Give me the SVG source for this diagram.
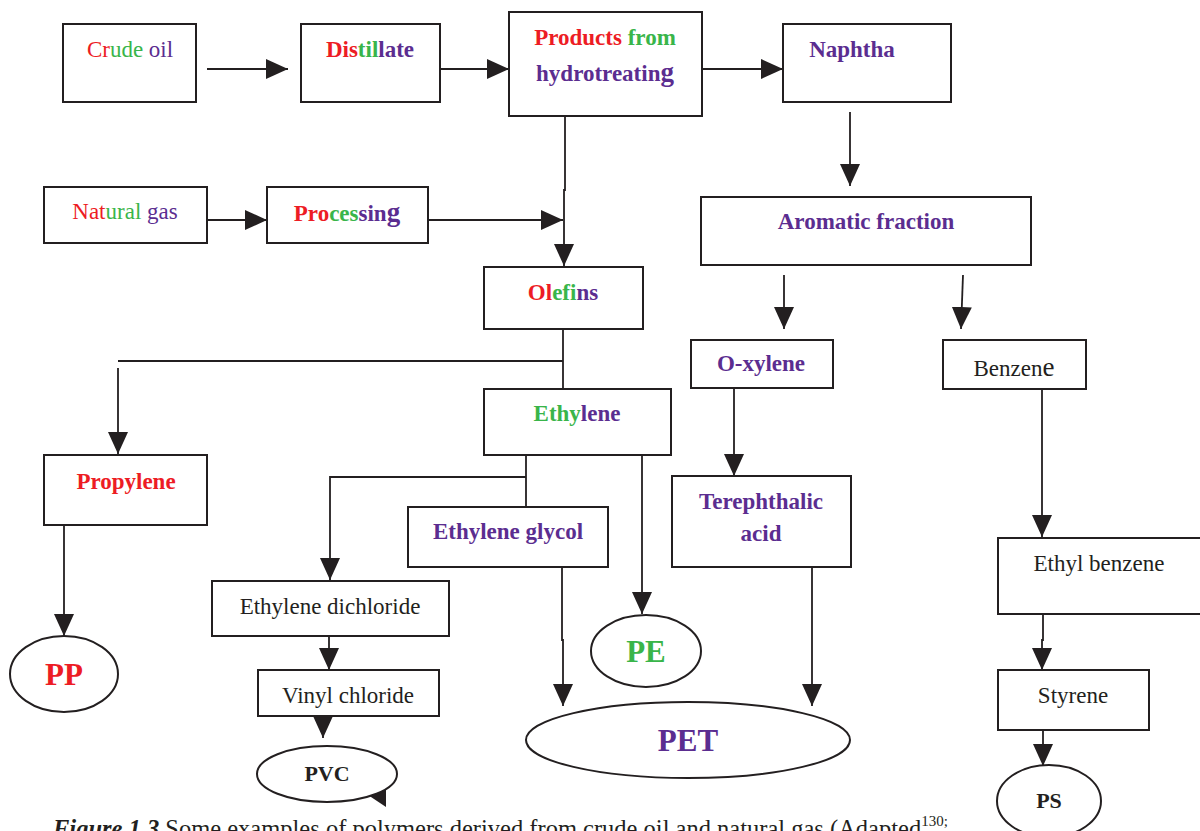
<svg xmlns="http://www.w3.org/2000/svg" width="1200" height="831" viewBox="0 0 1200 831">
<style>
.box{fill:#fff;stroke:#231f20;stroke-width:2}
.ell{fill:#fff;stroke:#231f20;stroke-width:2}
.t{font-family:"Liberation Serif","Times New Roman",serif;font-size:23px;text-anchor:middle;fill:#231f20}
.b{font-weight:bold}
.r{fill:#ed1c24}.g{fill:#39b54a}.p{fill:#5b2d90}.k{fill:#231f20}
.c{fill:none;stroke:#231f20;stroke-width:1.8}
.big{font-size:31px}
.mid{font-size:22px}
</style>
<defs>
<marker id="ah" viewBox="0 0 22 20" refX="22" refY="10" markerWidth="22" markerHeight="20" markerUnits="userSpaceOnUse" orient="auto">
<path d="M0,0 L22,10 L0,20 Z" fill="#231f20"/>
</marker>
</defs>
<rect width="1200" height="831" fill="#fff"/>
<g id="connectors">
<line class="c" x1="207" y1="69" x2="288" y2="69" marker-end="url(#ah)"/>
<line class="c" x1="440" y1="69" x2="509" y2="69" marker-end="url(#ah)"/>
<line class="c" x1="702" y1="69" x2="783" y2="69" marker-end="url(#ah)"/>
<line class="c" x1="850" y1="112" x2="850" y2="186" marker-end="url(#ah)"/>
<line class="c" x1="207" y1="220" x2="267" y2="220" marker-end="url(#ah)"/>
<line class="c" x1="428" y1="220" x2="563" y2="220" marker-end="url(#ah)"/>
<polyline class="c" points="565,116 565,190 564,190 564,266" marker-end="url(#ah)"/>
<line class="c" x1="563" y1="329" x2="563" y2="389"/>
<polyline class="c" points="563,361 118,361"/>
<line class="c" x1="118" y1="368" x2="118" y2="454" marker-end="url(#ah)"/>
<line class="c" x1="64" y1="525" x2="64" y2="636" marker-end="url(#ah)"/>
<line class="c" x1="526" y1="455" x2="526" y2="507"/>
<polyline class="c" points="526,477 330,477 330,580" marker-end="url(#ah)"/>
<line class="c" x1="642" y1="455" x2="642" y2="614" marker-end="url(#ah)"/>
<line class="c" x1="784" y1="275" x2="784" y2="329" marker-end="url(#ah)"/>
<line class="c" x1="963" y1="275" x2="961" y2="329" marker-end="url(#ah)"/>
<line class="c" x1="734" y1="388" x2="734" y2="476" marker-end="url(#ah)"/>
<line class="c" x1="812" y1="567" x2="812" y2="706" marker-end="url(#ah)"/>
<polyline class="c" points="562,567 562,640 563,640 563,706" marker-end="url(#ah)"/>
<line class="c" x1="329" y1="636" x2="329" y2="670" marker-end="url(#ah)"/>
<line class="c" x1="323" y1="716" x2="323" y2="738" marker-end="url(#ah)"/>
<path d="M386,785 L386,807 L368,795 Z" fill="#231f20"/>
<line class="c" x1="1042" y1="389" x2="1042" y2="537" marker-end="url(#ah)"/>
<polyline class="c" points="1043,614 1043,640 1042,640 1042,670" marker-end="url(#ah)"/>
<line class="c" x1="1043" y1="730" x2="1043" y2="766" marker-end="url(#ah)"/>
</g>
<g id="crude-oil"><rect class="box" x="63" y="24" width="133" height="78"/><text class="t" x="130" y="57"><tspan class="r">Cr</tspan><tspan class="g">ude</tspan><tspan class="p"> oil</tspan></text></g>
<g id="distillate"><rect class="box" x="301" y="24" width="139" height="78"/><text class="t b" x="370" y="57"><tspan class="r">Dis</tspan><tspan class="g">til</tspan><tspan class="p">late</tspan></text></g>
<g id="products"><rect class="box" x="509" y="12" width="193" height="104"/><text class="t b" x="605" y="45"><tspan class="r">Products</tspan><tspan class="g"> from</tspan></text><text class="t b p" x="605" y="81">hydrotreatin<tspan font-size="27px">g</tspan></text></g>
<g id="naphtha"><rect class="box" x="783" y="24" width="168" height="78"/><text class="t b p" x="852" y="57">Naphtha</text></g>
<g id="natural-gas"><rect class="box" x="44" y="187" width="163" height="56"/><text class="t" x="125" y="219"><tspan class="r">Nat</tspan><tspan class="g">ural</tspan><tspan class="p"> gas</tspan></text></g>
<g id="processing"><rect class="box" x="267" y="187" width="161" height="56"/><text class="t b" x="347" y="221"><tspan class="r">Pro</tspan><tspan class="g">ces</tspan><tspan class="p">sin</tspan><tspan class="p" font-size="27px">g</tspan></text></g>
<g id="aromatic"><rect class="box" x="701" y="197" width="330" height="68"/><text class="t b p" x="866" y="229">Aromatic fraction</text></g>
<g id="olefins"><rect class="box" x="484" y="267" width="159" height="62"/><text class="t b" x="563" y="300"><tspan class="r">Ol</tspan><tspan class="g">efi</tspan><tspan class="p">ns</tspan></text></g>
<g id="ethylene"><rect class="box" x="484" y="389" width="187" height="66"/><text class="t b" x="577" y="421"><tspan class="g">Ethy</tspan><tspan class="p">lene</tspan></text></g>
<g id="propylene"><rect class="box" x="44" y="455" width="163" height="70"/><text class="t b r" x="126" y="489">Propylene</text></g>
<g id="o-xylene"><rect class="box" x="691" y="340" width="142" height="48"/><text class="t b p" x="761" y="371">O-xylene</text></g>
<g id="benzene"><rect class="box" x="943" y="340" width="143" height="49"/><text class="t k" x="1014" y="376">Benzen<tspan font-size="27px">e</tspan></text></g>
<g id="terephthalic"><rect class="box" x="672" y="476" width="179" height="91"/><text class="t b p" x="761" y="509">Terephthalic</text><text class="t b p" x="761" y="541">acid</text></g>
<g id="ethylene-glycol"><rect class="box" x="408" y="507" width="200" height="60"/><text class="t b p" x="508" y="539">Ethylene glycol</text></g>
<g id="ethylene-dichloride"><rect class="box" x="212" y="581" width="237" height="55"/><text class="t k" x="330" y="614">Ethylene dichloride</text></g>
<g id="vinyl-chloride"><rect class="box" x="258" y="670" width="181" height="46"/><text class="t k" x="348" y="703">Vinyl chloride</text></g>
<g id="ethyl-benzene"><rect class="box" x="998" y="538" width="203" height="76"/><text class="t k" x="1099" y="571">Ethyl benzene</text></g>
<g id="styrene"><rect class="box" x="998" y="670" width="151" height="60"/><text class="t k" x="1073" y="703">Styrene</text></g>
<g id="pp"><ellipse class="ell" cx="64" cy="674" rx="54" ry="38"/><text class="t b r big" x="64" y="685">PP</text></g>
<g id="pe"><ellipse class="ell" cx="646" cy="651" rx="55" ry="36"/><text class="t b g big" x="646" y="662">PE</text></g>
<g id="pet"><ellipse class="ell" cx="688" cy="740" rx="162" ry="38"/><text class="t b p big" x="688" y="751">PET</text></g>
<g id="pvc"><ellipse class="ell" cx="327" cy="774" rx="70" ry="28"/><text class="t b k mid" x="327" y="781">PVC</text></g>
<g id="ps"><ellipse class="ell" cx="1049" cy="801" rx="52" ry="36"/><text class="t b k mid" x="1049" y="808">PS</text></g>
<g id="caption"><text font-family="'Liberation Serif','Times New Roman',serif" font-size="24.5" fill="#231f20" x="53" y="837"><tspan font-weight="bold" font-style="italic">Figure 1.3</tspan> Some examples of polymers derived from crude oil and natural gas (Adapted<tspan font-size="15" dy="-11">130;</tspan></text></g>
</svg>
